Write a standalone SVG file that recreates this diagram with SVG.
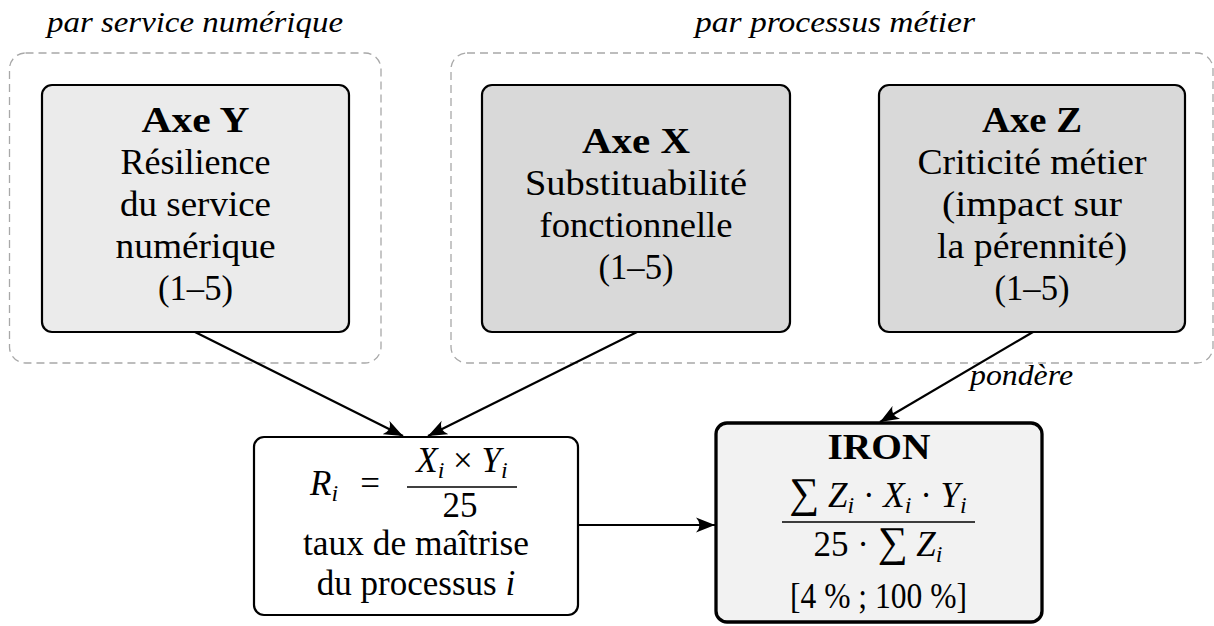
<svg xmlns="http://www.w3.org/2000/svg" width="1214" height="626" viewBox="0 0 1214 626">
  <style>
    text { font-family: "Liberation Serif", "DejaVu Serif", serif; font-size: 35px; fill: #000; }
    .c { text-anchor: middle; }
    .b { font-weight: bold; }
    .lbl { font-family: "Liberation Serif", serif; font-style: italic; font-size: 29px; }
    .mi { font-style: italic; }
    .sub { font-style: italic; font-size: 24px; }
    .sum { font-size: 42px; }
    .group { fill: none; stroke: #a8a8a8; stroke-width: 1.3; stroke-dasharray: 8 5; }
    .node { stroke: #000; stroke-width: 2.2; }
    .axeY { fill: #ebebeb; }
    .axeXZ { fill: #d9d9d9; }
    .plain { fill: #ffffff; }
    .iron { fill: #f2f2f2; stroke-width: 3.3; }
    .edge { fill: none; stroke: #000; stroke-width: 2.2; marker-end: url(#arrow); }
    .bar { stroke: #000; stroke-width: 1.6; }
  </style>
  <defs>
    <marker id="arrow" markerUnits="userSpaceOnUse" markerWidth="20" markerHeight="16" viewBox="0 0 20 16" refX="19" refY="8" orient="auto">
      <path d="M19,8 L0,0.5 Q7,8 0,15.5 Z" fill="#000"/>
    </marker>
  </defs>

  <!-- grouping frames -->
  <g id="frame-service">
    <rect class="group" x="9.5" y="53" width="371.5" height="310" rx="16"/>
    <text class="lbl c" x="195" y="32" textLength="296" lengthAdjust="spacingAndGlyphs">par service numérique</text>
  </g>
  <g id="frame-processus">
    <rect class="group" x="451" y="53" width="762" height="310" rx="16"/>
    <text class="lbl c" x="835" y="32" textLength="280" lengthAdjust="spacingAndGlyphs">par processus métier</text>
  </g>

  <!-- Axe Y -->
  <g id="axe-y">
    <rect class="node axeY" x="42" y="85" width="307" height="247" rx="10"/>
    <text class="c b" x="195.5" y="132" textLength="108" lengthAdjust="spacingAndGlyphs">Axe Y</text>
    <text class="c" x="195.5" y="174" textLength="150" lengthAdjust="spacingAndGlyphs">Résilience</text>
    <text class="c" x="195.5" y="216" textLength="151" lengthAdjust="spacingAndGlyphs">du service</text>
    <text class="c" x="195.5" y="258" textLength="160" lengthAdjust="spacingAndGlyphs">numérique</text>
    <text class="c" x="195.5" y="300" textLength="75" lengthAdjust="spacingAndGlyphs">(1–5)</text>
  </g>

  <!-- Axe X -->
  <g id="axe-x">
    <rect class="node axeXZ" x="482" y="85" width="308" height="247" rx="10"/>
    <text class="c b" x="636" y="153" textLength="108" lengthAdjust="spacingAndGlyphs">Axe X</text>
    <text class="c" x="636" y="195" textLength="222" lengthAdjust="spacingAndGlyphs">Substituabilité</text>
    <text class="c" x="636" y="237" textLength="193" lengthAdjust="spacingAndGlyphs">fonctionnelle</text>
    <text class="c" x="636" y="279" textLength="75" lengthAdjust="spacingAndGlyphs">(1–5)</text>
  </g>

  <!-- Axe Z -->
  <g id="axe-z">
    <rect class="node axeXZ" x="879" y="85" width="306" height="247" rx="10"/>
    <text class="c b" x="1032" y="132" textLength="100" lengthAdjust="spacingAndGlyphs">Axe Z</text>
    <text class="c" x="1032" y="174" textLength="229" lengthAdjust="spacingAndGlyphs">Criticité métier</text>
    <text class="c" x="1032" y="216" textLength="180" lengthAdjust="spacingAndGlyphs">(impact sur</text>
    <text class="c" x="1032" y="258" textLength="190" lengthAdjust="spacingAndGlyphs">la pérennité)</text>
    <text class="c" x="1032" y="300" textLength="75" lengthAdjust="spacingAndGlyphs">(1–5)</text>
  </g>

  <!-- R_i : taux de maîtrise -->
  <g id="ratio-r">
    <rect class="node plain" x="254" y="437" width="324" height="178" rx="10"/>
    <text x="310" y="495"><tspan class="mi">R</tspan><tspan class="sub" dy="6">i</tspan></text>
    <text class="c" x="370" y="495">=</text>
    <text class="c" x="462" y="472"><tspan class="mi">X</tspan><tspan class="sub" dy="6">i</tspan><tspan dy="-6"> × </tspan><tspan class="mi">Y</tspan><tspan class="sub" dy="6">i</tspan></text>
    <line class="bar" x1="407" y1="487" x2="517" y2="487"/>
    <text class="c" x="460" y="517">25</text>
    <text class="c" x="416" y="555" textLength="226" lengthAdjust="spacingAndGlyphs">taux de maîtrise</text>
    <text class="c" x="416" y="595">du processus <tspan class="mi">i</tspan></text>
  </g>

  <!-- IRON -->
  <g id="iron">
    <rect class="node iron" x="716" y="423" width="326" height="199" rx="11"/>
    <text class="c b" x="879" y="459" textLength="103" lengthAdjust="spacingAndGlyphs">IRON</text>
    <text class="c" x="878" y="507"><tspan class="sum">∑</tspan><tspan class="mi"> Z</tspan><tspan class="sub" dy="6">i</tspan><tspan dy="-6"> · </tspan><tspan class="mi">X</tspan><tspan class="sub" dy="6">i</tspan><tspan dy="-6"> · </tspan><tspan class="mi">Y</tspan><tspan class="sub" dy="6">i</tspan></text>
    <line class="bar" x1="782" y1="522" x2="975" y2="522"/>
    <text class="c" x="878" y="556">25 · <tspan class="sum">∑</tspan><tspan class="mi"> Z</tspan><tspan class="sub" dy="6">i</tspan></text>
    <text class="c" x="878.5" y="608" textLength="177" lengthAdjust="spacingAndGlyphs">[4 % ;  100 %]</text>
  </g>

  <!-- connectors -->
  <g id="connectors">
    <path class="edge" d="M195,332 L403,436"/>
    <path class="edge" d="M637,332 L428,436"/>
    <path class="edge" d="M1033,332 L880,422"/>
    <path class="edge" d="M578,525 L715,525"/>
    <text class="lbl" x="970" y="385" textLength="103" lengthAdjust="spacingAndGlyphs">pondère</text>
  </g>
</svg>
